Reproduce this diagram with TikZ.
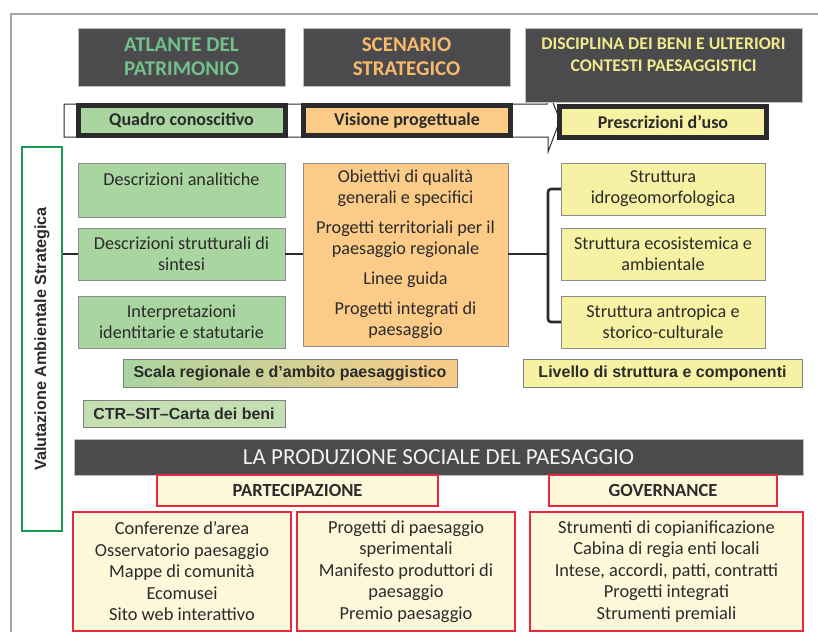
\documentclass[tikz,border=0pt]{standalone}
\usepackage{fontspec}
\setmainfont{Carlito}
\newfontfamily\arialfont{Liberation Sans}
\usetikzlibrary{positioning}
\usepackage{xcolor}

\definecolor{headgray}{HTML}{4B4B4D}
\definecolor{atgreen}{HTML}{72C08A}
\definecolor{scorange}{HTML}{F8B96C}
\definecolor{diyellow}{HTML}{F2E98C}
\definecolor{vgreen}{HTML}{A9D5A0}
\definecolor{vorange}{HTML}{FBCB87}
\definecolor{vyellow}{HTML}{F7F2A3}
\definecolor{ctrgreen}{HTML}{C4E0B2}
\definecolor{cream}{HTML}{FDF8DA}
\definecolor{vred}{HTML}{E8283C}
\definecolor{vasgreen}{HTML}{1A9B52}
\definecolor{inkgray}{HTML}{2B2B2B}

\begin{document}
\begin{tikzpicture}[x=1pt,y=-1pt,
	head/.style={fill=headgray,draw=black!25,inner sep=0pt,align=center,
		font=\bfseries\fontsize{21}{24}\selectfont},
	bandbox/.style={draw=inkgray,line width=5pt,inner sep=0pt,text=inkgray,
		minimum height=30,font=\bfseries\fontsize{18}{20}\selectfont},
	box/.style={draw=black!45,inner sep=0pt,align=center,text=inkgray,
		font=\fontsize{18.2}{21}\selectfont},
	tag/.style={draw=black!50,inner sep=0pt,minimum height=28,text=inkgray,
		font=\arialfont\bfseries\fontsize{16}{18}\selectfont},
	redbox/.style={draw=vred,line width=2.2pt,fill=cream,inner sep=0pt,align=center,
		text=inkgray,font=\fontsize{18.4}{21.5}\selectfont},
	link/.style={draw=inkgray,line width=2.6pt}]

	\useasboundingbox (0,0) rectangle (818,632);
	\draw[black!35,line width=1.2pt] (11,632) -- (11,14) -- (818,14);

	% freccia di fondo
	\draw[fill=white,draw=inkgray,line width=1pt] (64,104) -- (547,104) -- (547,88)
		-- (560,120) -- (548,152) -- (548,137) -- (64,137) -- cycle;

	\node[head,text=atgreen,minimum width=207,minimum height=58] (atlante) at (181.5,57)
		{ATLANTE DEL\\PATRIMONIO};
	\node[head,text=scorange,minimum width=207,minimum height=58] (scenario) at (406.5,57)
		{SCENARIO\\STRATEGICO};
	\node[head,minimum width=277,minimum height=74] (disciplina) at (663.5,65) {};
	\node[anchor=north,inner sep=0pt,align=center,text=diyellow,
		font=\bfseries\fontsize{17.8}{22}\selectfont] (disctxt) at (663.5,37.5)
		{DISCIPLINA DEI BENI E ULTERIORI\\CONTESTI PAESAGGISTICI};

	\node[bandbox,fill=vgreen,minimum width=207] (quadro) at (181.5,120.5) {Quadro conoscitivo};
	\node[bandbox,fill=vorange,minimum width=207] (visione) at (407,120.5) {Visione progettuale};
	\node[bandbox,fill=vyellow,minimum width=207,minimum height=31] (prescr) at (663,122)
		{Prescrizioni d’uso};

	\node[draw=vasgreen,line width=2pt,minimum width=40,minimum height=384] (vas) at (42,339) {};
	\node[rotate=90,inner sep=0pt,text=inkgray,font=\arialfont\bfseries\fontsize{16.2}{18}\selectfont]
		(vaslabel) at (vas.center) {Valutazione Ambientale Strategica};

	% atlante
	\node[box,fill=vgreen,minimum width=207,text height=22,text depth=32] (d1) at (181.5,190)
		{Descrizioni analitiche};
	\node[box,fill=vgreen,minimum width=207,minimum height=52] (d2) at (181.5,254)
		{Descrizioni strutturali di\\sintesi};
	\node[box,fill=vgreen,minimum width=207,minimum height=52] (d3) at (181.5,322)
		{Interpretazioni\\identitarie e statutarie};

	% scenario
	\node[box,fill=vorange,minimum width=205,minimum height=183] (obiettivi) at (405.5,254.5)
		{Obiettivi di qualità\\generali e specifici\\[9pt]
		Progetti territoriali per il\\paesaggio regionale\\[9pt]
		Linee guida\\[9pt]
		Progetti integrati di\\paesaggio};

	% strutture
	\node[box,fill=vyellow,minimum width=204,minimum height=52] (s1) at (663,189)
		{Struttura\\idrogeomorfologica};
	\node[box,fill=vyellow,minimum width=204,minimum height=52] (s2) at (663,254)
		{Struttura ecosistemica e\\ambientale};
	\node[box,fill=vyellow,minimum width=204,minimum height=52] (s3) at (663,322)
		{Struttura antropica e\\storico-culturale};

	\coordinate (fork) at (548,254);
	\draw[link] (vas.east |- d2.west) -- (d2.west);
	\draw[link] (d2.east) -- (obiettivi.west |- d2.east);
	\draw[link] (obiettivi.east |- fork) -- (fork);
	\draw[link,rounded corners=3pt] (s1.west) -| (fork) |- (s3.west);

	\node[tag,left color=vgreen,middle color=vyellow,right color=vorange,minimum width=334]
		(scala) at (290,373) {Scala regionale e d’ambito paesaggistico};
	\node[tag,fill=ctrgreen,minimum width=202,minimum height=27] (ctr) at (184,413.5)
		{CTR–SIT–Carta dei beni};
	\node[tag,fill=vyellow,minimum width=279] (livello) at (662.5,373)
		{Livello di struttura e componenti};

	% produzione sociale
	\node[fill=headgray,draw=black!25,minimum width=729,minimum height=36,inner sep=0pt,
		text=black!5,font=\fontsize{23}{26}\selectfont] (produzione) at (438.5,457)
		{LA PRODUZIONE SOCIALE DEL PAESAGGIO};
	\node[redbox,minimum width=281,minimum height=31,font=\bfseries\fontsize{18.5}{20}\selectfont]
		(partecipazione) at (297.5,490.5) {PARTECIPAZIONE};
	\node[redbox,minimum width=228,minimum height=31,font=\bfseries\fontsize{18.5}{20}\selectfont]
		(governance) at (663,490.5) {GOVERNANCE};

	\node[redbox,minimum width=218,minimum height=119] (p1) at (182,571.5)
		{Conferenze d’area\\Osservatorio paesaggio\\Mappe di comunità\\Ecomusei\\Sito web interattivo};
	\node[redbox,minimum width=218,minimum height=119] (p2) at (406,571.5)
		{Progetti di paesaggio\\sperimentali\\Manifesto produttori di\\paesaggio\\Premio paesaggio};
	\node[redbox,minimum width=273,minimum height=119] (g1) at (666.5,571.5)
		{Strumenti di copianificazione\\Cabina di regia enti locali\\Intese, accordi, patti, contratti\\
		Progetti integrati\\Strumenti premiali};
\end{tikzpicture}
\end{document}
